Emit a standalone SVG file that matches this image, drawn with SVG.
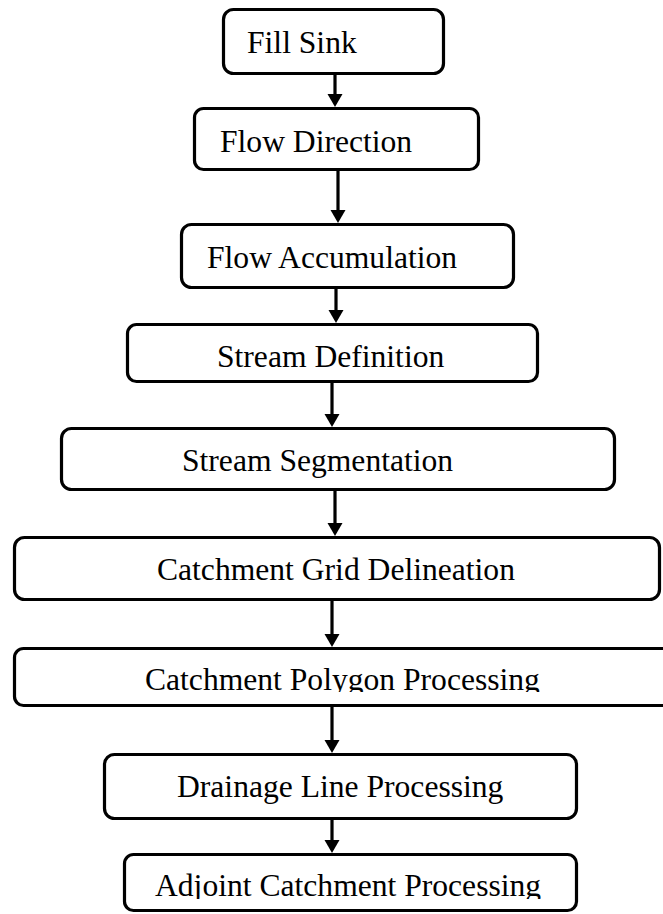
<svg xmlns="http://www.w3.org/2000/svg" width="663" height="914" viewBox="0 0 663 914">
  <style>
    .box { fill: #ffffff; stroke: #000000; stroke-width: 3.2; }
    .label { font-family: "Liberation Serif", "Times New Roman", serif; font-size: 31.6px; fill: #000000; }
    .edge { stroke: #000000; stroke-width: 3.2; fill: none; }
    .head { fill: #000000; stroke: none; }
  </style>
  <defs>
    <clipPath id="clip-polygon"><rect x="0" y="0" width="663" height="692"/></clipPath>
    <clipPath id="clip-adjoint"><rect x="0" y="0" width="663" height="899"/></clipPath>
  </defs>
  <rect width="663" height="914" fill="#ffffff"/>

  <g id="connectors">
    <path class="edge" d="M335,75 V98"/>
    <path class="edge" d="M338,171 V214"/>
    <path class="edge" d="M336,289 V314"/>
    <path class="edge" d="M332,383 V418"/>
    <path class="edge" d="M335,491 V527"/>
    <path class="edge" d="M332,601 V638"/>
    <path class="edge" d="M332,707 V744"/>
    <path class="edge" d="M332,820 V844"/>
    <polygon class="head" points="327.5,94 342.5,94 335,107"/>
    <polygon class="head" points="330.5,210 345.5,210 338,223"/>
    <polygon class="head" points="328.5,310 343.5,310 336,323"/>
    <polygon class="head" points="324.5,414 339.5,414 332,427"/>
    <polygon class="head" points="327.5,523 342.5,523 335,536"/>
    <polygon class="head" points="324.5,634 339.5,634 332,647"/>
    <polygon class="head" points="324.5,740 339.5,740 332,753"/>
    <polygon class="head" points="324.5,840 339.5,840 332,853"/>
  </g>

  <g id="fill-sink">
    <rect class="box" x="223.5" y="9.5" width="220" height="64" rx="10"/>
    <text class="label" x="247" y="53">Fill Sink</text>
  </g>
  <g id="flow-direction">
    <rect class="box" x="194.5" y="108.5" width="284" height="61" rx="9"/>
    <text class="label" x="220" y="152">Flow Direction</text>
  </g>
  <g id="flow-accumulation">
    <rect class="box" x="181.5" y="224.5" width="332" height="63" rx="10"/>
    <text class="label" x="207" y="268">Flow Accumulation</text>
  </g>
  <g id="stream-definition">
    <rect class="box" x="127.5" y="324.5" width="410" height="57" rx="9"/>
    <text class="label" x="217" y="367">Stream Definition</text>
  </g>
  <g id="stream-segmentation">
    <rect class="box" x="61.5" y="428.5" width="553" height="61" rx="10"/>
    <text class="label" x="182" y="471">Stream Segmentation</text>
  </g>
  <g id="catchment-grid">
    <rect class="box" x="14.5" y="537.5" width="645" height="62" rx="10"/>
    <text class="label" x="157" y="580">Catchment Grid Delineation</text>
  </g>
  <g id="catchment-polygon">
    <rect class="box" x="14.5" y="648.5" width="680" height="57" rx="9"/>
    <text class="label" x="145" y="690" clip-path="url(#clip-polygon)">Catchment Polygon Processing</text>
  </g>
  <g id="drainage-line">
    <rect class="box" x="104.5" y="754.5" width="472" height="64" rx="10"/>
    <text class="label" x="177" y="797">Drainage Line Processing</text>
  </g>
  <g id="adjoint-catchment">
    <rect class="box" x="124.5" y="854.5" width="452" height="56" rx="9"/>
    <text class="label" x="155" y="896" clip-path="url(#clip-adjoint)">Adjoint Catchment Processing</text>
  </g>
</svg>
